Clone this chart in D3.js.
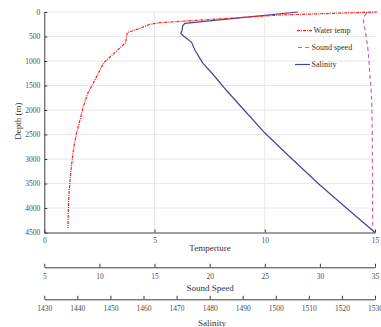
<!DOCTYPE html>
<html>
<head>
<meta charset="utf-8">
<script src="https://cdn.jsdelivr.net/npm/d3@7"></script>
<style>
  html, body { margin: 0; padding: 0; background: #fff; }
  svg { display: block; font-family: "Liberation Serif", "Times New Roman", serif; }
</style>
</head>
<body>
<svg id="chart" width="381" height="327"></svg>
<script>
// ---- Data ----
// Water temperature (deg C) vs depth (m) — plotted on "Temperture" axis
const tempDepth = [0, 61, 218, 251, 333, 422, 606, 639, 1014, 1116, 1455, 1627, 1933, 2204, 2510, 2816, 3225, 3633, 4041, 4415];
const tempValue = [15.1, 10.69, 5.25, 4.79, 4.34, 3.76, 3.70, 3.66, 2.75, 2.60, 2.22, 2.0, 1.77, 1.62, 1.44, 1.32, 1.21, 1.13, 1.09, 1.07];

// Sound speed (m/s) vs depth — plotted against the 1430–1530 axis
const soundDepth = [20, 163, 367, 674, 1327, 1796, 2816, 4449];
const soundValue = [1527.4, 1526.5, 1527.0, 1527.7, 1528.5, 1529.0, 1529.2, 1529.3];

// Salinity vs depth — plotted against the 5–35 axis
const salDepth = [0, 231, 280, 367, 435, 484, 618, 776, 1047, 1245, 1633, 2041, 2470, 2960, 3531, 4061, 4500];
const salValue = [28.0, 17.76, 17.55, 17.51, 17.39, 17.60, 18.36, 18.66, 19.39, 20.20, 21.65, 23.29, 25.01, 27.28, 30.0, 32.72, 35.0];

// Tick labels
const depthTicks = [0, 500, 1000, 1500, 2000, 2500, 3000, 3500, 4000, 4500];
const tempTicks = [0, 5, 10, 15];
const speedAxisTicks = [5, 10, 15, 20, 25, 30, 35];
const salAxisTicks = [1430, 1440, 1450, 1460, 1470, 1480, 1490, 1500, 1510, 1520, 1530];

const seriesNames = ["Water temp", "Sound speed", "Salinity"];
const seriesColors = ["#ff1a1a", "#d060ac", "#3b4a9c"];

(function () {
// ---- Layout ----
const svg = d3.select("#chart");
const pL = 44.3, pR = 375, pT = 12, pB = 232.5;

const xTemp = d3.scaleLinear().domain([0, 15]).range([pL, pR]);
const xSpeedAxis = d3.scaleLinear().domain([5, 35]).range([pL, pR]);
const xSalAxis = d3.scaleLinear().domain([1430, 1530]).range([pL, pR]);
const y = d3.scaleLinear().domain([0, 4500]).range([pT, pB]);

const axisColor = "#3c3c3c";
const labelColor = "#4d4d4d";
const fmt = d3.format("d");

// grid
const grid = svg.append("g");
grid.selectAll("line.h").data(depthTicks.slice(0, -1)).join("line")
  .attr("x1", pL).attr("x2", pR)
  .attr("y1", d => y(d)).attr("y2", d => y(d))
  .attr("stroke", "#e8e8e8").attr("stroke-width", 1);
grid.selectAll("line.v").data(tempTicks.slice(1, -1)).join("line")
  .attr("x1", d => xTemp(d)).attr("x2", d => xTemp(d))
  .attr("y1", pT).attr("y2", pB)
  .attr("stroke", "#e8e8e8").attr("stroke-width", 1);

function styleAxis(g) {
  g.select(".domain").attr("stroke", axisColor).attr("stroke-width", 1);
  g.selectAll(".tick line").attr("stroke", axisColor);
  g.selectAll(".tick text").attr("fill", labelColor)
    .attr("font-family", "Liberation Serif, serif").attr("font-size", 7.5);
}

// y axis
const yAxis = svg.append("g").attr("transform", `translate(${pL},0)`)
  .call(d3.axisLeft(y).tickValues(depthTicks).tickFormat(fmt).tickSizeInner(-3).tickSizeOuter(0).tickPadding(4));
styleAxis(yAxis);

// temperature axis (bottom of plot)
const tAxis = svg.append("g").attr("transform", `translate(0,${pB})`)
  .call(d3.axisBottom(xTemp).tickValues(tempTicks).tickFormat(fmt).tickSizeInner(-3).tickSizeOuter(0).tickPadding(5));
styleAxis(tAxis);

// sound speed axis
const sAxisY = 267.3;
const sAxis = svg.append("g").attr("transform", `translate(0,${sAxisY})`)
  .call(d3.axisBottom(xSpeedAxis).tickValues(speedAxisTicks).tickFormat(fmt).tickSizeInner(-3.5).tickSizeOuter(0).tickPadding(6));
styleAxis(sAxis);

// salinity axis
const salAxisY = 299.3;
const lAxis = svg.append("g").attr("transform", `translate(0,${salAxisY})`)
  .call(d3.axisBottom(xSalAxis).tickValues(salAxisTicks).tickFormat(fmt).tickSizeInner(-3.5).tickSizeOuter(0).tickPadding(6));
styleAxis(lAxis);

// axis titles
const titleStyle = t => t.attr("font-family", "Liberation Serif, serif").attr("font-size", 9)
  .attr("fill", "#333").attr("text-anchor", "middle");
svg.append("text").attr("x", 210).attr("y", 250.5).text("Temperture").call(titleStyle);
svg.append("text").attr("x", 210).attr("y", 290.5).text("Sound Speed").call(titleStyle);
svg.append("text").attr("x", 212).attr("y", 326).text("Salinity").call(titleStyle);
svg.append("text").attr("transform", "translate(20.5,121) rotate(-90)").text("Depth (m)").call(titleStyle);

// clip
svg.append("clipPath").attr("id", "clip").append("rect")
  .attr("x", pL).attr("y", pT - 2).attr("width", 381 - pL).attr("height", pB - pT + 3);

const plot = svg.append("g").attr("clip-path", "url(#clip)");

const lineTemp = d3.line().x(i => xTemp(tempValue[i])).y(i => y(tempDepth[i]));
const lineSound = d3.line().x(i => xSalAxis(soundValue[i])).y(i => y(soundDepth[i])).curve(d3.curveMonotoneY);
const lineSal = d3.line().x(i => xSpeedAxis(salValue[i])).y(i => y(salDepth[i]));

plot.append("path").attr("d", lineSal(d3.range(salDepth.length)))
  .attr("fill", "none").attr("stroke", seriesColors[2]).attr("stroke-width", 1.2);
plot.append("path").attr("d", lineSound(d3.range(soundDepth.length)))
  .attr("fill", "none").attr("stroke", seriesColors[1]).attr("stroke-width", 1.2)
  .attr("stroke-dasharray", "4,3");
plot.append("path").attr("d", lineTemp(d3.range(tempDepth.length)))
  .attr("fill", "none").attr("stroke", seriesColors[0]).attr("stroke-width", 1.2)
  .attr("stroke-dasharray", "3,1,1,1");

// legend
const legY = [30.7, 47.5, 64.5];
const legLine = [[297, 312], [298, 310], [295, 310]];
const legDash = ["3,1,1,1", "4,3", null];
const leg = svg.append("g");
seriesNames.forEach((name, i) => {
  const l = leg.append("line")
    .attr("x1", legLine[i][0]).attr("x2", legLine[i][1])
    .attr("y1", legY[i]).attr("y2", legY[i])
    .attr("stroke", seriesColors[i]).attr("stroke-width", 1.2);
  if (legDash[i]) l.attr("stroke-dasharray", legDash[i]);
  leg.append("text").attr("x", legLine[i][1] + 1.5).attr("y", legY[i] + 2.7)
    .attr("font-family", "Liberation Serif, serif").attr("font-size", 8)
    .attr("fill", "#333").text(name);
});
})();
</script>
</body>
</html>
